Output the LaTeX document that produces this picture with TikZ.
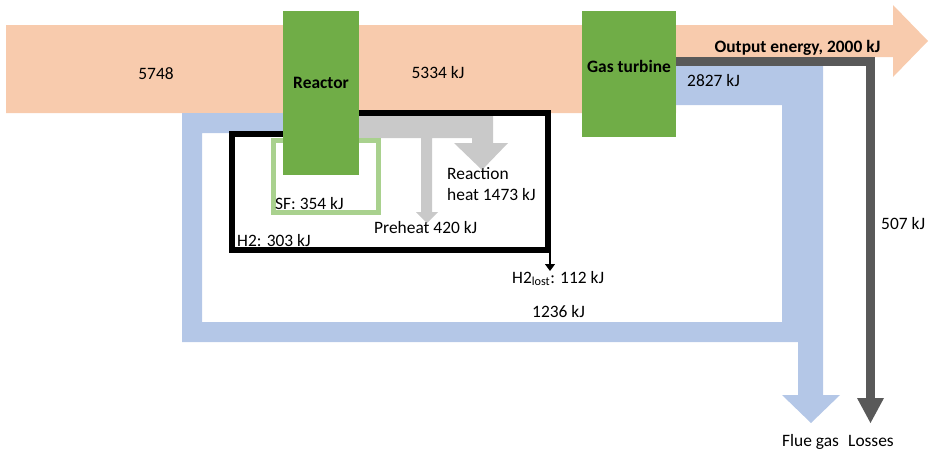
\documentclass[tikz,border=0pt]{standalone}
\usepackage{fontspec}
\setmainfont{Carlito}
\usetikzlibrary{arrows.meta}
\definecolor{heatflow}{HTML}{F8CBAD}
\definecolor{unitgreen}{HTML}{70AD47}
\definecolor{flueblue}{HTML}{B4C7E7}
\definecolor{sfgreen}{HTML}{A9D18E}
\definecolor{innergray}{HTML}{C9C9C9}
\definecolor{lossgray}{HTML}{595959}
\begin{document}
\begin{tikzpicture}[x=1pt,y=-1pt,
  lbl/.style={inner sep=0pt, anchor=base west, font=\fontsize{17.4}{20}\selectfont},
  clbl/.style={lbl, anchor=base},
  blbl/.style={inner sep=0pt, anchor=base, font=\fontsize{17.4}{20}\selectfont\bfseries},
  unitbox/.style={fill=unitgreen, draw=none, inner sep=0pt, anchor=north west}]
\useasboundingbox (0,0) rectangle (930,453);

% main energy stream with output arrow
\fill[heatflow] (6,25) -- (893,25) -- (893,5) -- (928,41) -- (893,77) -- (893,57)
  -- (676,57) -- (676,113) -- (6,113) -- cycle;

% flue gas stream with recirculation loop
\fill[flueblue] (676,66) -- (823,66) -- (823,395) -- (840,395) -- (811,423)
  -- (782,395) -- (798,395) -- (798,342) -- (182,342) -- (182,113) -- (283,113)
  -- (283,133) -- (202,133) -- (202,322) -- (782,322) -- (782,105) -- (676,105) -- cycle;

% internal heat flows: reaction heat and preheat
\fill[innergray] (359,115) -- (493,115) -- (493,143) -- (508,143) -- (482,170)
  -- (454,143) -- (472,143) -- (472,138) -- (432,138) -- (432,212) -- (438,212)
  -- (427,223) -- (416,212) -- (421,212) -- (421,138) -- (359,138) -- cycle;

% losses
\draw[lossgray, line width=9pt] (676,61.5) -- (870.5,61.5) -- (870.5,399);
\fill[lossgray] (857,398) -- (884,398) -- (870.5,423) -- cycle;

% hydrogen loop
\draw[line width=6pt] (283,134) -- (232,134) -- (232,250) -- (548,250) -- (548,113) -- (359,113);
\coordinate (h2out) at (550,253);
\coordinate (h2end) at (550,271);
\draw[line width=1.3pt, -{Triangle[width=10pt,length=7pt]}] (h2out) -- (h2end);

% solar fuel loop
\draw[sfgreen, line width=5pt] (273.5,140.5) rectangle (378.5,212.5);

% process units
\node[unitbox, minimum width=76pt, minimum height=164pt] (reactor) at (283,11) {};
\node[unitbox, minimum width=94pt, minimum height=126pt] (turbine) at (582,11) {};

% labels
\node[clbl] (in) at (156,79) {5748};
\node[blbl] (reactorlbl) at (321,88.5) {Reactor};
\node[clbl] (mid) at (438,78.5) {5334 kJ};
\node[blbl] (turbinelbl) at (629,72.5) {Gas turbine};
\node[blbl] (outlbl) at (797.5,52) {Output energy, 2000 kJ};
\node[lbl] (fluelbl) at (687,86) {2827 kJ};
\node[lbl] (reaclbl) at (447,179.5) {Reaction};
\node[lbl] (reaclbl2) at (447,200) {heat 1473 kJ};
\node[lbl] (sflbl) at (275,209.5) {SF: 354 kJ};
\node[lbl] (prelbl) at (374,233) {Preheat 420 kJ};
\node[lbl] (h2lbl) at (237,246) {H2: 303 kJ};
\node[lbl] (lostlbl) at (512,283) {H2\textsubscript{lost}: 112 kJ};
\node[lbl] (reclbl) at (532,317) {1236 kJ};
\node[lbl] (losslbl) at (881,229) {507 kJ};
\node[lbl] (fluegas) at (782,446) {Flue gas};
\node[lbl] (losses) at (848,446) {Losses};
\end{tikzpicture}
\end{document}
